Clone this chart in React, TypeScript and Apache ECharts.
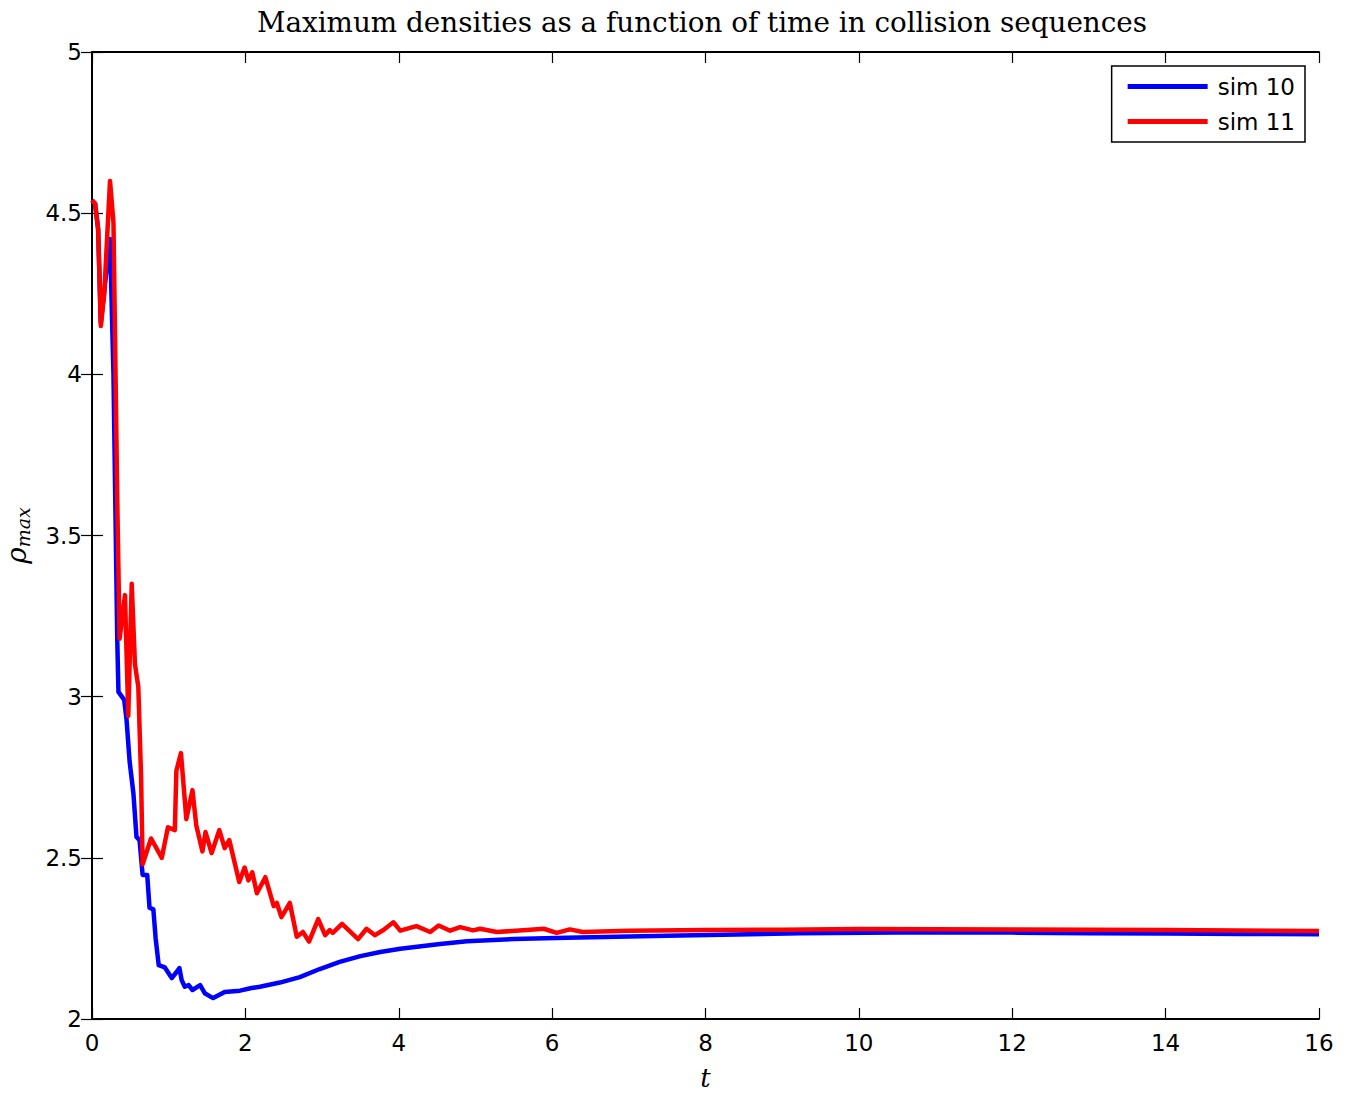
import React, { useEffect, useRef } from "react";
import * as echarts from "echarts";

const TITLE = "Maximum densities as a function of time in collision sequences";
const SERIES_NAMES = ["sim 10", "sim 11"];
const X_TICKS = [0, 2, 4, 6, 8, 10, 12, 14, 16];
const Y_TICKS = [2, 2.5, 3, 3.5, 4, 4.5, 5];

const sim10: [number, number][] = [
  [0, 4.54], [0.04, 4.53], [0.08, 4.45], [0.115, 4.16], [0.16, 4.26], [0.235, 4.42],
  [0.28, 4.0], [0.33, 3.17], [0.345, 3.015], [0.42, 2.99], [0.45, 2.93], [0.49, 2.8],
  [0.54, 2.7], [0.58, 2.565], [0.62, 2.555], [0.66, 2.447], [0.72, 2.447], [0.75, 2.345],
  [0.8, 2.34], [0.83, 2.25], [0.87, 2.167], [0.95, 2.16], [1.04, 2.127], [1.1, 2.145],
  [1.14, 2.158], [1.17, 2.12], [1.21, 2.1], [1.26, 2.105], [1.31, 2.09], [1.41, 2.105],
  [1.47, 2.08], [1.54, 2.07], [1.58, 2.065], [1.73, 2.084], [1.93, 2.088], [2.08, 2.096],
  [2.19, 2.1], [2.45, 2.113], [2.71, 2.13], [2.97, 2.155], [3.23, 2.177], [3.5, 2.195],
  [3.76, 2.208], [4.02, 2.218], [4.54, 2.233], [4.89, 2.241], [5.5, 2.248], [6.19, 2.252],
  [7.5, 2.258], [9.23, 2.266], [10.5, 2.268], [12, 2.268], [13, 2.266], [14, 2.265],
  [15, 2.264], [16, 2.263],
];

const sim11: [number, number][] = [
  [0, 4.54], [0.04, 4.53], [0.08, 4.45], [0.115, 4.15], [0.16, 4.25], [0.235, 4.6],
  [0.28, 4.47], [0.33, 3.6], [0.36, 3.18], [0.43, 3.315], [0.473, 2.94], [0.518, 3.35],
  [0.56, 3.1], [0.604, 3.03], [0.64, 2.75], [0.66, 2.48], [0.77, 2.56], [0.91, 2.5],
  [0.99, 2.595], [1.08, 2.586], [1.1, 2.77], [1.16, 2.825], [1.23, 2.62], [1.31, 2.71],
  [1.36, 2.6], [1.44, 2.52], [1.48, 2.58], [1.56, 2.515], [1.66, 2.586], [1.73, 2.53],
  [1.79, 2.555], [1.92, 2.425], [1.99, 2.47], [2.04, 2.43], [2.09, 2.455], [2.15, 2.39],
  [2.26, 2.44], [2.37, 2.35], [2.41, 2.36], [2.47, 2.316], [2.58, 2.36], [2.67, 2.255],
  [2.75, 2.27], [2.83, 2.24], [2.95, 2.31], [3.04, 2.26], [3.1, 2.276], [3.14, 2.267],
  [3.26, 2.295], [3.47, 2.248], [3.58, 2.28], [3.69, 2.26], [3.8, 2.276], [3.93, 2.3],
  [4.02, 2.274], [4.23, 2.288], [4.41, 2.27], [4.52, 2.29], [4.67, 2.274], [4.8, 2.285],
  [4.97, 2.275], [5.06, 2.28], [5.28, 2.27], [5.67, 2.276], [5.89, 2.28], [6.06, 2.267],
  [6.23, 2.278], [6.4, 2.27], [7, 2.274], [8, 2.276], [9, 2.277], [10, 2.279], [12, 2.278],
  [14, 2.276], [16, 2.273],
];

const SANS = "'DejaVu Sans', sans-serif";
const SERIF = "'DejaVu Serif', serif";

export default function App() {
  const ref = useRef<HTMLDivElement>(null);
  useEffect(() => {
    if (!ref.current) return;
    const chart = echarts.init(ref.current, undefined, { renderer: "svg" });
    const axisLine = { show: true, lineStyle: { color: "#000", width: 2 } };
    const tick = { show: true, inside: true, length: 11, lineStyle: { color: "#000", width: 1.2 } };
    chart.setOption({
      animation: false,
      backgroundColor: "#fff",
      title: {
        text: TITLE,
        left: 697,
        textAlign: "center",
        top: 3,
        textStyle: { fontFamily: SERIF, fontWeight: "normal", fontSize: 27.8, color: "#000" },
      },
      grid: {
        left: 92,
        right: 31,
        top: 52,
        bottom: 74,
        show: false,
        containLabel: false,
        outerBoundsMode: "none",
      },
      legend: {
        data: SERIES_NAMES,
        orient: "vertical",
        right: 45,
        top: 66,
        icon: "rect",
        itemWidth: 80,
        itemHeight: 5,
        itemGap: 12,
        padding: [9, 10, 9, 16],
        backgroundColor: "#fff",
        borderColor: "#000",
        borderWidth: 1.5,
        borderRadius: 0,
        textStyle: { fontFamily: SANS, fontSize: 23, color: "#000", padding: [0, 0, 0, 5] },
      },
      xAxis: [
        {
          type: "value",
          min: 0,
          max: 16,
          interval: 2,
          position: "bottom",
          axisLine,
          axisTick: tick,
          splitLine: { show: false },
          axisLabel: {
            fontFamily: SANS,
            fontSize: 23,
            color: "#000",
            margin: 12,
            formatter: (v: number) => String(X_TICKS.find((t) => Math.abs(t - v) < 1e-9) ?? v),
          },
          name: "t",
          nameLocation: "middle",
          nameGap: 46,
          nameTextStyle: { fontFamily: SERIF, fontStyle: "italic", fontSize: 26, color: "#000" },
        },
        {
          type: "value",
          min: 0,
          max: 16,
          interval: 2,
          position: "top",
          axisLine,
          axisTick: tick,
          splitLine: { show: false },
          axisLabel: { show: false },
        },
      ],
      yAxis: [
        {
          type: "value",
          min: 2,
          max: 5,
          interval: 0.5,
          position: "left",
          axisLine,
          axisTick: tick,
          splitLine: { show: false },
          axisLabel: {
            fontFamily: SANS,
            fontSize: 23,
            color: "#000",
            margin: 10,
            formatter: (v: number) => String(Y_TICKS.find((t) => Math.abs(t - v) < 1e-9) ?? v),
          },
          name: "{r|ρ}{s|max}",
          nameLocation: "middle",
          nameRotate: 90,
          nameGap: 60,
          nameTextStyle: {
            rich: {
              r: { fontFamily: SERIF, fontStyle: "italic", fontSize: 28, color: "#000" },
              s: { fontFamily: SERIF, fontStyle: "italic", fontSize: 19, color: "#000", padding: [12, 0, 0, 0] },
            },
          },
        },
        {
          type: "value",
          min: 2,
          max: 5,
          interval: 0.5,
          position: "right",
          axisLine,
          axisTick: tick,
          splitLine: { show: false },
          axisLabel: { show: false },
        },
      ],
      series: [
        {
          name: SERIES_NAMES[0],
          type: "line",
          data: sim10,
          showSymbol: false,
          symbol: "none",
          lineStyle: { color: "#0000ff", width: 4.5, join: "round" },
          itemStyle: { color: "#0000ff" },
          z: 2,
        },
        {
          name: SERIES_NAMES[1],
          type: "line",
          data: sim11,
          showSymbol: false,
          symbol: "none",
          lineStyle: { color: "#ff0000", width: 4.5, join: "round" },
          itemStyle: { color: "#ff0000" },
          z: 3,
        },
      ],
    });
    return () => chart.dispose();
  }, []);
  return <div ref={ref} style={{ width: 1350, height: 1093, position: "absolute", left: 0, top: 0 }} />;
}
